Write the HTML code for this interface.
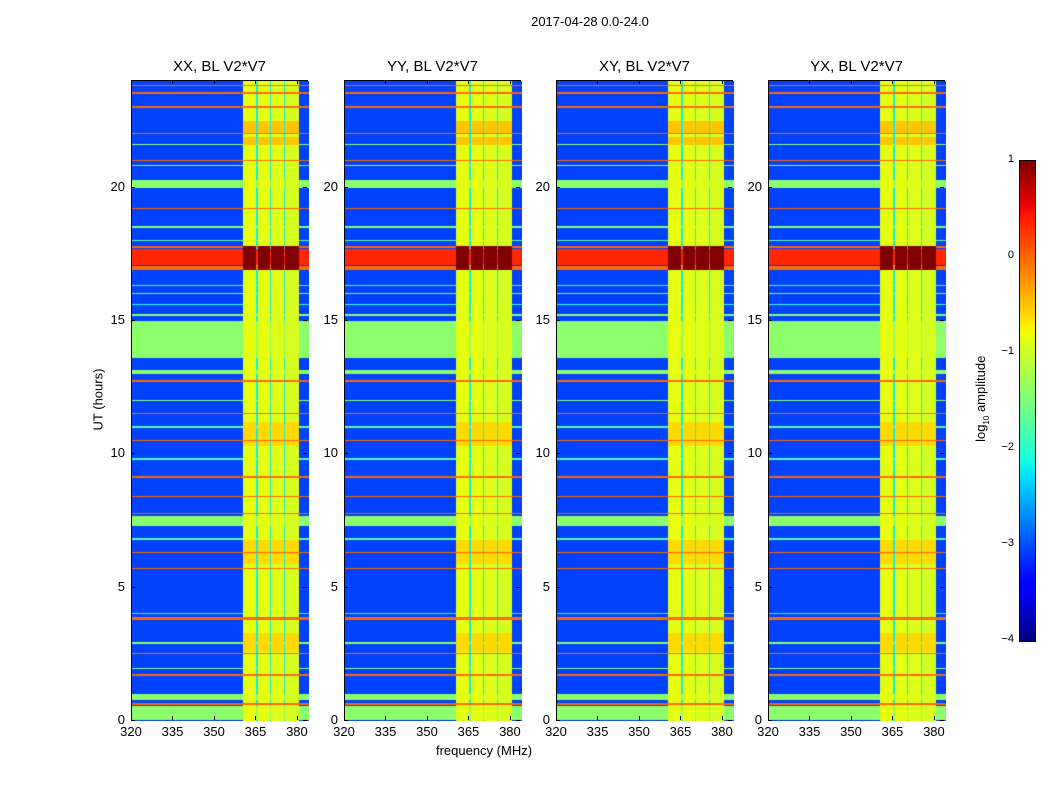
<!DOCTYPE html>
<html><head><meta charset="utf-8">
<style>
body{margin:0;background:#fff;width:1050px;height:800px;position:relative;overflow:hidden;font-family:"Liberation Sans",sans-serif;}
.abs{position:absolute;}
.panel{position:absolute;top:80px;width:177px;height:640px;border:1px solid #000;box-sizing:border-box;}
.panel canvas{position:absolute;left:0;top:0;}
.title{position:absolute;top:58px;width:177px;text-align:center;font-size:15px;}
.lab{position:absolute;font-size:13px;}
</style></head>
<body>
<div class="abs" style="left:0;width:1180px;top:14px;text-align:center;font-size:13px;">2017-04-28 0.0-24.0</div>
<div class="abs" style="left:384px;width:200px;top:743px;text-align:center;font-size:13px;">frequency (MHz)</div>
<div class="abs" style="left:48px;top:392px;width:100px;text-align:center;font-size:13px;transform:rotate(-90deg);">UT (hours)</div>
<div class="abs" style="left:922px;top:390px;width:120px;text-align:center;font-size:13px;transform:rotate(-90deg);">log<sub style="font-size:8px">10</sub> amplitude</div>
<div id="root"></div>
<canvas id="cb" class="abs" style="left:1019px;top:160px;border:1px solid #000;" width="15" height="480"></canvas>
<div id="cbl"></div>
<script>
const panelTitles=["XX, BL V2*V7","YY, BL V2*V7","XY, BL V2*V7","YX, BL V2*V7"];
const panelLefts=[131,344,556,768];
const xTicks=[320,335,350,365,380];
const yTicks=[0,5,10,15,20];
const cbTicks=[1,0,-1,-2,-3,-4];
const baseLevel=-3.05;
const freqBands=[[360.2,365.0,-0.85],[365.6,369.8,-0.85],[370.4,374.9,-0.9],[375.4,380.4,-0.95]];
const gapLevel=-2.2;
const timeBands=[[0.05,0.55,-1.4],[0.6,0.66,0],[0.8,1.0,-1.4],[1.7,1.75,0],[1.95,2.0,-1.4],[2.5,2.55,0],[2.9,2.95,-1.4],[3.8,3.9,0],[4.0,4.05,-2],[5.7,5.75,0],[6.3,6.35,0],[6.8,6.85,-1.7],[7.3,7.7,-1.4],[7.75,7.8,0],[8.4,8.45,0],[9.1,9.2,0],[9.8,9.85,-1.8],[10.5,10.55,0],[11.0,11.05,-1.7],[11.5,11.55,0],[12.0,12.05,-1.4],[12.7,12.8,0],[13.0,13.15,-1.4],[13.6,15.0,-1.4],[15.2,15.25,-1.4],[15.6,15.65,-2],[16.0,16.05,-1.4],[16.3,16.35,-1.7],[16.9,17.05,0],[17.1,17.7,0.35],[17.75,17.8,0],[18.0,18.05,-1.7],[18.5,18.55,-1.4],[19.2,19.25,0],[20.0,20.3,-1.4],[20.8,20.85,-1.4],[21.0,21.05,0],[21.6,21.65,-1.4],[22.0,22.05,0],[23.0,23.05,0],[23.5,23.6,0],[23.8,23.85,0]];
const columnBoosts=[[16.9,17.8,1.0],[22.0,22.5,-0.5],[21.6,21.9,-0.5],[2.6,3.3,-0.6],[10.3,11.2,-0.6],[5.9,6.8,-0.6]];
const fMin=320,fMax=384,tMin=0,tMax=24,W=177,H=640;
const xs=f=>(f-fMin)/(fMax-fMin)*W;
const ys=t=>(tMax-t)/(tMax-tMin)*H;
const fInv=px=>fMin+px/W*(fMax-fMin);
const tInv=py=>tMax-py/H*(tMax-tMin);
function interp(x,pts){for(let i=1;i<pts.length;i++){if(x<=pts[i][0]){const a=pts[i-1],b=pts[i];return a[1]+(b[1]-a[1])*(x-a[0])/(b[0]-a[0]);}}return pts[pts.length-1][1];}
const R=[[0,0],[0.35,0],[0.66,1],[0.89,1],[1,0.5]];
const G=[[0,0],[0.125,0],[0.375,1],[0.64,1],[0.91,0],[1,0]];
const B=[[0,0.5],[0.11,1],[0.34,1],[0.65,0],[1,0]];
function jet(v){let x=(v+4)/5;x=Math.max(0,Math.min(1,x));
 return [interp(x,R)*255,interp(x,G)*255,interp(x,B)*255];}
function value(f,t){
 let v=baseLevel,inCol=false;
 for(const b of freqBands){if(f>=b[0]&&f<b[1]){v=Math.max(v,b[2]);inCol=true;}}
 if(!inCol&&f>=freqBands[0][0]&&f<freqBands[freqBands.length-1][1])v=gapLevel;
 for(const b of timeBands){if(t>=b[0]&&t<b[1])v=Math.max(v,b[2]);}
 if(inCol)for(const b of columnBoosts){if(t>=b[0]&&t<b[1])v=Math.max(v,b[2]);}
 return v;}
const root=document.getElementById('root');
panelLefts.forEach((L,i)=>{
 const p=document.createElement('div');p.className='panel';p.style.left=L+'px';
 
 
 const cv=document.createElement('canvas');cv.width=W;cv.height=H;
 
 
 const ctx=cv.getContext('2d');const img=ctx.createImageData(W,H);
 for(let py=0;py<H;py++){const t=tInv(py+0.5);for(let px=0;px<W;px++){const c=jet(value(fInv(px+0.5),t));const k=(py*W+px)*4;img.data[k]=c[0];img.data[k+1]=c[1];img.data[k+2]=c[2];img.data[k+3]=255;}}
 ctx.putImageData(img,0,0);
 p.appendChild(cv);root.appendChild(p);
 const ti=document.createElement('div');ti.className='title';ti.style.left=L+'px';ti.textContent=panelTitles[i];
 
 
 root.appendChild(ti);
 xTicks.forEach(v=>{const x=L+xs(v);
  const l=document.createElement('div');l.className='lab';l.style.left=(x-15)+'px';l.style.width='30px';l.style.textAlign='center';l.style.top='724px';l.textContent=v;
  
  
  root.appendChild(l);
  ['716','80'].forEach(tp=>{const m=document.createElement('div');m.className='abs';m.style.cssText='left:'+x+'px;top:'+tp+'px;width:1px;height:4px;background:#000';
  
  
  root.appendChild(m);});});
 yTicks.forEach(v=>{const y=80+ys(v);
  const l=document.createElement('div');l.className='lab';l.style.left=(L-40)+'px';l.style.width='34px';l.style.textAlign='right';l.style.top=(y-8)+'px';l.textContent=v;
  
  
  root.appendChild(l);
  [L,L+W-5].forEach(lx=>{const m=document.createElement('div');m.className='abs';m.style.cssText='left:'+lx+'px;top:'+y+'px;width:4px;height:1px;background:#000';
  
  
  root.appendChild(m);});});
});
const cb=document.getElementById('cb').getContext('2d');
for(let y=0;y<480;y++){const c=jet(1-y/480*5);cb.fillStyle='rgb('+c.map(Math.round).join(',')+')';cb.fillRect(0,y,15,1);}
const cbl=document.getElementById('cbl');
cbTicks.forEach(v=>{const y=160+(1-v)/5*480;
 const l=document.createElement('div');l.className='abs';l.style.cssText='left:990px;width:24px;text-align:right;font-size:11px;top:'+(y-7)+'px';l.textContent=v<0?'\u2212'+(-v):v;
 
 
 cbl.appendChild(l);});
</script>
</body></html>
